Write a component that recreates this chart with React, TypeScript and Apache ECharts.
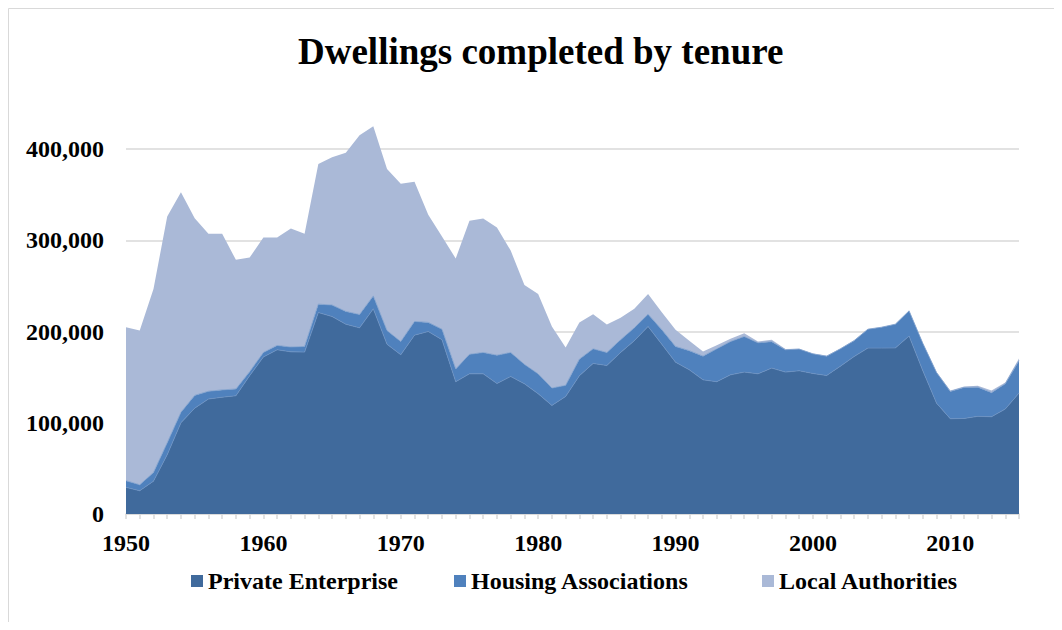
import React, { useEffect, useRef } from "react";
import * as echarts from "echarts";

const years: string[] = [];
for (let y = 1950; y <= 2015; y++) years.push(String(y));

const privateEnterprise = [
  29200, 25500, 36000, 65000, 100000, 116000, 126000, 128000, 129600, 151500,
  172000, 180000, 177700, 177400, 220800, 216400, 208000, 204000, 224800, 186000,
  174500, 196000, 200000, 191000, 145000, 153600, 153600, 143000, 150700, 142700,
  131800, 119000, 128800, 151500, 165000, 162800, 177000, 190000, 205500, 186000,
  166400, 158000, 147000, 145000, 152500, 155500, 153600, 159900, 155500, 157000,
  154000, 151800, 162000, 172600, 181800, 181800, 182000, 195000, 157000, 121500,
  104400, 104700, 107000, 106600, 115000, 132500,
];

const housingAssociations = [
  7300, 6500, 9500, 13000, 11500, 14000, 8500, 8000, 7400, 4500,
  5000, 4700, 5300, 6200, 9200, 12600, 14000, 14600, 14200, 15000,
  14500, 15000, 10000, 11500, 14000, 21400, 23400, 31000, 26300, 21300,
  21800, 19000, 12200, 18200, 16000, 14200, 14000, 14000, 13500, 16000,
  17200, 21000, 26000, 36000, 36500, 39000, 34000, 29000, 24500, 23700,
  21500, 21200, 19000, 17400, 20700, 22900, 26000, 27600, 30000, 33500,
  29900, 34000, 32000, 26400, 27700, 35500,
];

const localAuthorities = [
  168200, 169000, 201000, 248000, 241000, 194000, 172500, 171000, 141500, 125000,
  126000, 118300, 130000, 123400, 153600, 162000, 174000, 196400, 186000, 177000,
  173000, 153000, 118000, 101500, 121000, 146500, 146700, 140000, 111700, 87000,
  87400, 67500, 41500, 40300, 38000, 30700, 24000, 21000, 22000, 19000,
  18400, 11000, 5000, 4000, 3000, 3500, 1400, 2000, 700, 300,
  500, 400, 300, 300, 300, 300, 300, 400, 500, 500,
  1100, 1100, 1500, 2400, 1300, 2400,
];

const seriesNames = ["Private Enterprise", "Housing Associations", "Local Authorities"];
const seriesColors = ["#406A9C", "#4F81BD", "#AAB9D7"];
const seriesLines = ["#6A8FC0", "#7A9DCB", "#AAB9D7"];

const FONT = "'Liberation Serif', 'Times New Roman', serif";

export default function App() {
  const ref = useRef<HTMLDivElement>(null);
  useEffect(() => {
    if (!ref.current) return;
    const chart = echarts.init(ref.current, undefined, { renderer: "svg" });
    const dataSets = [privateEnterprise, housingAssociations, localAuthorities];
    const legendLefts = [178, 441, 749];
    chart.setOption({
      animation: false,
      backgroundColor: "#ffffff",
      title: {
        text: "Dwellings completed by tenure",
        left: 285,
        top: 20,
        textStyle: { fontFamily: FONT, fontSize: 37, fontWeight: "bold", color: "#000" },
      },
      legend: seriesNames.map((n, i) => ({
        data: [n],
        left: legendLefts[i],
        top: 556,
        itemWidth: 12,
        itemHeight: 12,
        icon: "rect",
        textStyle: { fontFamily: FONT, fontSize: 24, fontWeight: "bold", color: "#000" },
      })),
      graphic: [
        {
          type: "rect",
          shape: { x: 0.5, y: 0.5, width: 1200, height: 800 },
          style: { fill: "none", stroke: "#d9d9d9", lineWidth: 1 },
          silent: true,
        },
      ],
      grid: { left: 118, right: 35, top: 141, bottom: 108, containLabel: false },
      xAxis: {
        type: "category",
        data: years,
        boundaryGap: false,
        axisLine: { show: true, lineStyle: { color: "#d9d9d9", width: 1.5 } },
        axisTick: { show: true, interval: 0, length: 5, lineStyle: { color: "#d9d9d9", width: 1.5 } },
        axisLabel: {
          interval: 9,
          margin: 17,
          fontFamily: FONT,
          fontSize: 24,
          fontWeight: "bold",
          color: "#000",
        },
        splitLine: { show: false },
      },
      yAxis: {
        type: "value",
        min: 0,
        max: 400000,
        interval: 100000,
        axisLine: { show: false },
        axisTick: { show: false },
        axisLabel: {
          margin: 22,
          fontFamily: FONT,
          fontSize: 24,
          fontWeight: "bold",
          color: "#000",
          formatter: (v: number) => v.toLocaleString("en-US"),
        },
        splitLine: { show: true, lineStyle: { color: "#d9d9d9", width: 1.5 } },
      },
      series: seriesNames.map((n, i) => ({
        name: n,
        type: "line",
        stack: "total",
        data: dataSets[i],
        clip: false,
        symbol: "none",
        showSymbol: false,
        lineStyle: { width: i === 2 ? 0 : 0.8, color: seriesLines[i] },
        itemStyle: { color: seriesColors[i] },
        areaStyle: { color: seriesColors[i], opacity: 1 },
        emphasis: { disabled: true },
        z: 2,
      })),
    });
    return () => chart.dispose();
  }, []);
  return <div ref={ref} style={{ width: 1046, height: 614 }} />;
}
